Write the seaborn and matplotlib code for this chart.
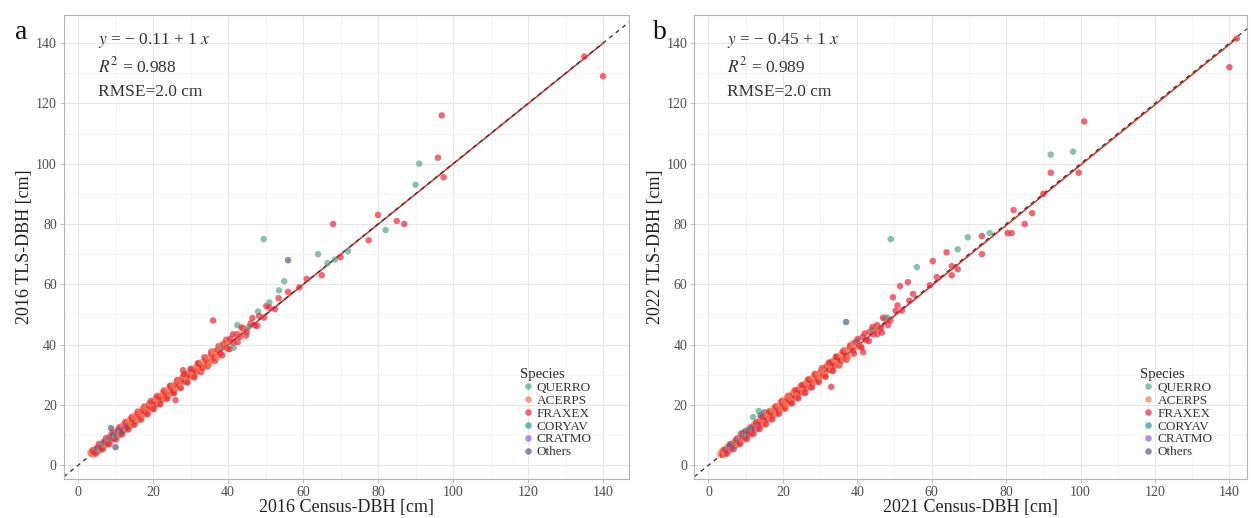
import numpy as np
import pandas as pd
import matplotlib
matplotlib.use("Agg")
import matplotlib.pyplot as plt
import seaborn as sns

# ---------------- data ----------------
species_order = ["QUERRO", "ACERPS", "FRAXEX", "CORYAV", "CRATMO", "Others"]
species_colors = ["#5aa58c", "#f47a50", "#e8283a", "#1f9aa8", "#a05ad0", "#4f5f8c"]

# Panel a (2016)
a_querro_x = [38.5, 41.5, 42.5, 45.5, 48.0, 49.5, 51.0, 53.6, 55.0, 64.0, 66.5, 68.5, 72.0, 82.0, 90.0, 91.0]
a_querro_y = [39.5, 39.0, 46.5, 45.8, 51.0, 75.0, 54.0, 58.0, 61.0, 70.0, 67.0, 68.2, 71.0, 78.0, 93.0, 100.0]
a_acerps_x = [3.5, 4.6, 5.4, 6.2, 6.9, 7.7, 8.3, 9.0, 9.8, 10.5, 11.2, 11.9, 12.7, 13.4, 14.1, 14.9, 15.6, 16.4,
              17.1, 17.8, 18.5, 19.3, 20.0, 20.7, 21.4, 22.2, 22.9, 23.7, 24.4, 25.2, 26.0, 26.7, 27.5, 28.2,
              29.0, 29.8, 30.5, 31.3, 32.1, 32.9, 33.7, 34.5, 35.3, 36.1, 37.0, 37.8, 39.3, 40.2, 42.8, 44.6,
              3.3, 4.1, 5.0, 5.9, 6.8, 7.6, 8.5, 9.4, 10.2, 11.0, 11.9, 12.8, 13.7, 14.6, 15.5, 16.3, 17.2, 18.1,
              19.0, 19.9, 20.8, 21.7, 22.6, 23.5, 24.4, 25.3, 26.3, 27.2, 28.1, 29.1, 30.0, 31.0, 32.0, 33.0,
              34.0, 35.0, 36.1, 37.3, 38.6, 40.0]
a_acerps_y = [3.8, 5.3, 5.0, 7.0, 6.6, 8.5, 8.0, 9.9, 9.4, 11.3, 10.7, 12.8, 12.2, 14.3, 13.6, 15.9, 15.0, 17.3,
              16.5, 18.9, 18.0, 20.2, 19.4, 21.8, 20.8, 23.2, 22.3, 24.8, 23.6, 26.3, 25.4, 27.9, 26.8, 29.4,
              28.3, 31.0, 29.8, 32.5, 31.3, 34.1, 33.0, 35.7, 34.6, 37.4, 36.2, 39.1, 39.9, 41.1, 43.5, 45.1,
              4.3, 3.5, 6.0, 5.0, 7.9, 6.7, 9.8, 8.5, 11.5, 10.0, 13.3, 11.8, 15.1, 13.4, 16.9, 15.1, 18.7, 16.9,
              20.6, 18.6, 22.4, 20.3, 24.2, 22.1, 26.0, 23.9, 27.8, 25.8, 29.9, 27.7, 31.8, 29.6, 33.6, 31.5,
              35.7, 33.4, 37.9, 35.9, 40.3, 38.6]
a_fraxex_x = [4.2, 5.1, 5.8, 6.5, 7.3, 8.0, 8.6, 9.4, 10.1, 10.9, 11.5, 12.3, 13.0, 13.8, 14.5, 15.2, 16.0, 16.7,
              17.4, 18.1, 18.9, 19.6, 20.3, 21.0, 21.8, 22.5, 23.3, 24.0, 24.8, 25.5, 26.3, 27.0, 27.8, 28.6,
              29.3, 30.1, 30.9, 31.6, 32.4, 33.2, 34.0, 34.8, 35.6, 36.4, 37.2, 38.0, 38.9, 39.7, 40.6, 41.4,
              42.3, 43.2, 44.1, 45.0, 46.0, 47.1, 48.3, 49.6, 51.0, 52.5,
              36.0, 68.0, 97.0, 96.0, 97.5, 140.0, 80.0, 85.0, 87.0, 77.5, 59.0, 65.0, 56.0, 61.0, 70.0, 135.0,
              26.0, 28.0,
              3.9, 4.8, 5.6, 6.6, 7.5, 8.4, 9.2, 10.2, 11.0, 11.8, 12.6, 13.5, 14.3, 15.1, 15.9, 16.9, 17.7,
              18.6, 19.4, 20.2, 21.1, 22.0, 22.9, 23.8, 24.6, 25.6, 26.5, 27.4, 28.3, 29.2, 30.1, 31.0, 32.0,
              32.8, 33.7, 34.6, 35.5, 36.5, 37.5, 38.5, 39.5, 40.4, 41.3, 42.6, 43.6, 44.8, 46.5, 47.8, 50.2, 53.5]
a_fraxex_y = [4.5, 4.6, 6.4, 6.1, 7.9, 7.4, 9.3, 9.0, 10.8, 10.2, 12.4, 11.8, 13.9, 13.1, 15.3, 14.6, 16.9, 16.1,
              18.2, 17.6, 19.8, 19.0, 21.3, 20.2, 22.6, 21.9, 24.1, 23.2, 25.9, 24.7, 27.1, 26.5, 28.9, 27.8,
              30.4, 29.5, 31.7, 31.0, 33.5, 32.4, 35.1, 34.0, 36.8, 35.7, 38.3, 37.1, 40.0, 38.8, 41.9, 40.5,
              43.4, 42.6, 45.3, 44.2, 47.0, 46.4, 49.5, 49.0, 52.3, 51.8,
              48.0, 80.0, 116.0, 102.0, 95.5, 129.0, 83.0, 81.0, 80.0, 74.6, 59.0, 63.0, 57.5, 61.8, 69.0, 135.5,
              21.6, 31.5,
              5.0, 3.9, 7.1, 5.3, 9.0, 7.0, 10.9, 8.6, 12.6, 10.3, 14.4, 11.9, 16.0, 13.5, 17.8, 15.2, 19.5,
              16.9, 21.3, 18.6, 23.0, 20.3, 24.8, 22.1, 26.4, 23.9, 28.3, 25.6, 30.2, 27.4, 32.0, 29.1, 33.9,
              30.9, 35.8, 32.8, 37.6, 34.6, 39.5, 36.5, 41.6, 38.5, 43.4, 40.8, 45.7, 43.0, 48.8, 46.2, 52.8, 55.4]
a_coryav_x = [5.5, 6.8, 7.5, 8.2, 9.1, 9.9, 10.4, 11.6]
a_coryav_y = [5.2, 7.4, 7.0, 8.9, 8.6, 10.5, 9.8, 11.0]
a_cratmo_x = [6.0, 7.9, 9.6, 11.0, 12.8]
a_cratmo_y = [6.6, 8.4, 9.2, 11.8, 13.2]
a_others_x = [5.0, 6.3, 7.1, 8.8, 10.0, 9.3, 10.7, 12.0, 13.2, 56.0]
a_others_y = [5.4, 5.9, 7.7, 12.3, 6.0, 9.8, 11.2, 11.5, 12.7, 68.0]

# Panel b (2021 / 2022)
b_querro_x = [12.0, 13.5, 40.0, 44.0, 48.0, 49.0, 56.0, 67.0, 69.7, 75.6, 92.0, 98.0]
b_querro_y = [16.0, 18.0, 41.0, 45.0, 49.0, 75.0, 65.7, 71.6, 75.6, 77.0, 103.0, 104.0]
b_acerps_x = [3.2, 4.3, 5.1, 5.9, 6.7, 7.4, 8.2, 8.9, 9.7, 10.4, 11.2, 11.9, 12.7, 13.4, 14.2, 14.9, 15.7, 16.4,
              17.2, 17.9, 18.7, 19.4, 20.2, 20.9, 21.7, 22.4, 23.2, 23.9, 24.7, 25.4, 26.2, 26.9, 27.7, 28.4,
              29.2, 29.9, 30.7, 31.4, 32.2, 33.0, 33.8, 34.6, 35.4, 36.2, 37.0, 38.4, 39.3, 40.1, 43.8, 45.8,
              3.5, 4.4, 5.3, 6.1, 7.0, 7.9, 8.8, 9.6, 10.5, 11.4, 12.3, 13.1, 14.0, 14.9, 15.8, 16.7, 17.6, 18.4,
              19.3, 20.2, 21.1, 22.0, 22.9, 23.8, 24.8, 25.7, 26.6, 27.5, 28.5, 29.4, 30.4, 31.3, 32.3, 33.3,
              34.3, 35.3, 36.4, 37.6, 38.9, 41.0]
b_acerps_y = [3.6, 4.0, 5.7, 5.4, 7.3, 6.9, 8.8, 8.3, 10.4, 9.8, 11.9, 11.2, 13.5, 12.8, 15.0, 14.2, 16.5, 15.7,
              18.0, 17.1, 19.6, 18.6, 21.1, 20.0, 22.6, 21.5, 24.2, 23.0, 25.7, 24.5, 27.2, 26.0, 28.8, 27.5,
              30.3, 29.0, 31.9, 30.5, 33.4, 32.0, 34.9, 33.6, 36.6, 35.3, 38.1, 38.9, 40.5, 39.4, 44.6, 45.1,
              4.5, 3.6, 6.3, 5.1, 8.1, 6.8, 10.0, 8.6, 11.8, 10.1, 13.7, 11.9, 15.4, 13.6, 17.3, 15.2, 19.1, 17.0,
              20.9, 18.8, 22.7, 20.5, 24.5, 22.3, 26.3, 24.0, 28.2, 25.9, 30.2, 27.8, 32.0, 29.7, 33.9, 31.6,
              36.0, 33.6, 38.2, 35.8, 40.6, 39.3]
b_fraxex_x = [3.8, 4.7, 5.5, 6.3, 7.0, 7.8, 8.5, 9.3, 10.0, 10.8, 11.5, 12.3, 13.0, 13.8, 14.5, 15.3, 16.0, 16.8,
              17.5, 18.3, 19.0, 19.8, 20.5, 21.3, 22.0, 22.8, 23.5, 24.3, 25.0, 25.8, 26.5, 27.3, 28.0, 28.8,
              29.5, 30.3, 31.0, 31.8, 32.5, 33.3, 34.0, 34.8, 35.6, 36.4, 37.2, 38.0, 38.9, 39.7, 40.6, 41.5,
              42.4, 43.3, 44.3, 45.3, 46.4, 47.6, 48.9, 50.3, 52.0, 54.0,
              101.0, 140.0, 92.0, 99.5, 82.0, 87.0, 85.0, 80.4, 81.5, 73.5, 73.5, 64.0, 60.3, 65.4, 67.0, 65.4,
              61.4, 59.5, 53.6, 51.5, 49.6, 46.6, 41.6, 33.0, 90.0, 142.0,
              4.1, 5.0, 5.8, 6.8, 7.7, 8.6, 9.5, 10.4, 11.3, 12.1, 12.9, 13.8, 14.6, 15.5, 16.3, 17.2, 18.1,
              19.0, 19.8, 20.7, 21.6, 22.5, 23.4, 24.2, 25.1, 26.0, 26.9, 27.8, 28.7, 29.7, 30.6, 31.5, 32.5,
              33.4, 34.3, 35.2, 36.1, 37.1, 38.1, 39.1, 40.1, 41.1, 42.0, 43.1, 44.1, 45.4, 46.9, 48.3, 50.8, 55.0]
b_fraxex_y = [3.5, 5.2, 4.9, 6.9, 6.4, 8.3, 7.8, 9.9, 9.3, 11.4, 10.8, 12.9, 12.3, 14.4, 13.7, 15.9, 15.2, 17.5,
              16.7, 18.9, 18.2, 20.5, 19.6, 22.0, 21.2, 23.6, 22.6, 25.1, 24.1, 26.7, 25.6, 28.3, 27.1, 29.7,
              28.5, 31.4, 30.0, 32.9, 31.6, 34.3, 33.0, 35.8, 34.7, 37.5, 36.3, 39.1, 37.9, 40.8, 39.6, 42.6,
              41.5, 44.3, 43.4, 46.5, 45.6, 48.7, 48.0, 51.2, 51.3, 54.6,
              114.0, 132.0, 97.0, 97.0, 84.6, 83.6, 80.0, 77.0, 77.0, 76.0, 70.0, 70.6, 67.7, 66.0, 65.0, 63.0,
              62.4, 59.7, 60.7, 59.4, 55.7, 44.0, 37.5, 26.0, 90.0, 141.5,
              5.1, 3.9, 7.0, 5.4, 8.9, 7.1, 10.8, 8.7, 12.6, 10.4, 14.3, 12.0, 16.0, 13.6, 17.9, 15.3, 19.6,
              17.1, 21.4, 18.8, 23.1, 20.5, 25.0, 22.2, 26.6, 24.0, 28.5, 25.8, 30.3, 27.6, 32.2, 29.3, 34.1,
              31.2, 36.0, 33.1, 37.8, 35.0, 39.8, 37.0, 41.9, 39.0, 43.7, 41.2, 45.9, 43.5, 48.9, 46.5, 53.0, 56.8]
b_coryav_x = [5.6, 6.9, 7.6, 8.4, 9.2, 10.2, 11.3]
b_coryav_y = [6.2, 6.5, 8.4, 7.9, 9.9, 9.6, 12.0]
b_cratmo_x = [6.1, 8.0, 9.5, 12.0, 13.5]
b_cratmo_y = [5.7, 8.7, 9.1, 12.7, 13.0]
b_others_x = [4.9, 6.4, 7.3, 8.7, 9.9, 10.9, 12.5, 14.0, 15.0, 37.0]
b_others_y = [5.5, 7.1, 6.8, 10.5, 11.3, 10.3, 11.9, 16.5, 17.5, 47.5]

# fitted-line coefficients printed on each panel
fit_intercepts = [-0.11, -0.45]
fit_slopes = [1.0, 1.0]

panel_letters = ["a", "b"]
x_labels = ["2016 Census-DBH [cm]", "2021 Census-DBH [cm]"]
y_labels = ["2016 TLS-DBH [cm]", "2022 TLS-DBH [cm]"]
eq_texts = ["− 0.11 + 1", "− 0.45 + 1"]
r2_texts = ["0.988", "0.989"]
rmse_texts = ["RMSE=2.0 cm", "RMSE=2.0 cm"]
ticks = [0, 20, 40, 60, 80, 100, 120, 140]


def build(prefix):
    g = globals()
    frames = []
    for sp in species_order:
        key = sp.lower()
        xs = g[f"{prefix}_{key}_x"]
        ys = g[f"{prefix}_{key}_y"]
        frames.append(pd.DataFrame({"census": xs, "tls": ys, "Species": sp}))
    df = pd.concat(frames, ignore_index=True)
    # interleave species in drawing order so colours mix along the band
    return df.sort_values("census", kind="stable").reset_index(drop=True)


data_a = build("a")
data_b = build("b")

# ---------------- style ----------------
sns.set_theme(style="whitegrid")
plt.rcParams["font.family"] = ["Liberation Serif", "DejaVu Serif"]
plt.rcParams["mathtext.fontset"] = "stix"

fig = plt.figure(figsize=(12.51, 5.18), dpi=100)
ax_a = fig.add_axes([0.051, 0.075, 0.452, 0.896])
ax_b = fig.add_axes([0.555, 0.075, 0.442, 0.896])

limits_x = [(-3.8, 147.0), (-3.8, 144.8)]
limits_y = (-4.6, 149.3)

for i, (ax, df) in enumerate([(ax_a, data_a), (ax_b, data_b)]):
    ax.set_facecolor("white")
    ax.set_axisbelow(True)
    ax.axline((0, 0), slope=1, color="#3a3a3a", linestyle=(0, (3, 3)), linewidth=1.0, zorder=2)
    sns.scatterplot(data=df, x="census", y="tls", hue="Species", hue_order=species_order,
                    palette=species_colors, s=22, alpha=0.7, linewidth=0, ax=ax, zorder=3)
    xr = pd.DataFrame({"census": [df["census"].min(), df["census"].max()]})
    xr["tls"] = fit_intercepts[i] + fit_slopes[i] * xr["census"]
    sns.lineplot(data=xr, x="census", y="tls", color="#d7301f", linewidth=1.1, ax=ax,
                 zorder=1.5, legend=False)
    ax.set_xlim(*limits_x[i])
    ax.set_ylim(*limits_y)
    ax.set_xticks(ticks)
    ax.set_yticks(ticks)
    ax.set_xticks([10, 30, 50, 70, 90, 110, 130], minor=True)
    ax.set_yticks([10, 30, 50, 70, 90, 110, 130], minor=True)
    ax.grid(True, which="major", color="#e6e6e6", linewidth=0.8)
    ax.grid(True, which="minor", color="#f2f2f2", linewidth=0.6)
    for sp in ax.spines.values():
        sp.set_color("#b3b3b3")
        sp.set_linewidth(0.8)
    ax.tick_params(axis="both", which="major", labelsize=10, labelcolor="#4d4d4d",
                   color="#b3b3b3", length=3, width=0.6, pad=2, bottom=True, left=True)
    ax.tick_params(axis="both", which="minor", length=0)
    ax.set_xlabel(x_labels[i], fontsize=13, color="#222222", labelpad=0)
    ax.set_ylabel(y_labels[i], fontsize=13, color="#222222", labelpad=2)

    ax.text(0.06, 0.945, r"$y$ = " + eq_texts[i] + r" $x$", transform=ax.transAxes,
            fontsize=12.5, color="#333333", va="center", ha="left")
    ax.text(0.06, 0.89, r"$R^2$ = " + r2_texts[i], transform=ax.transAxes,
            fontsize=12.5, color="#333333", va="center", ha="left")
    ax.text(0.06, 0.834, rmse_texts[i], transform=ax.transAxes,
            fontsize=12.5, color="#333333", va="center", ha="left")

    sns.move_legend(ax, loc="lower left", bbox_to_anchor=(0.79, 0.025), frameon=False,
                    title="Species", fontsize=9.5, title_fontsize=10.5, handletextpad=0.1,
                    labelspacing=0.05, borderpad=0.2, markerscale=1.0, alignment="left",
                    handlelength=1.2)
    leg = ax.get_legend()
    for t in leg.get_texts():
        t.set_color("#333333")

fig.text(0.012, 0.925, "a", fontsize=20, color="#111111")
fig.text(0.522, 0.925, "b", fontsize=20, color="#111111")

fig.savefig("out.png", dpi=100)
